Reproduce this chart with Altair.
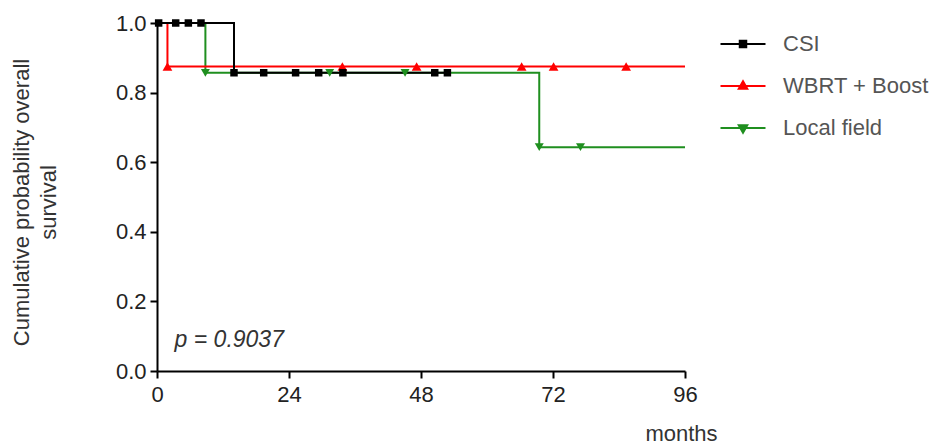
import altair as alt
import pandas as pd

FONT = "Liberation Sans"

groups = ["CSI", "WBRT + Boost", "Local field"]
colors = ["#000000", "#ff0000", "#1f8f1f"]

# Kaplan-Meier step curves (months, survival)
csi_step_months = [0.0, 14.0, 53.0]
csi_step_surv = [1.0, 0.857, 0.857]
wbrt_step_months = [0.0, 1.9, 96.0]
wbrt_step_surv = [1.0, 0.875, 0.875]
local_step_months = [0.0, 8.8, 69.5, 96.0]
local_step_surv = [1.0, 0.857, 0.643, 0.643]

# plotted markers (months, survival)
csi_mark_months = [0.3, 3.4, 5.7, 8.0, 14.0, 19.4, 25.2, 29.4, 33.8, 50.5, 52.8]
csi_mark_surv = [1.0, 1.0, 1.0, 1.0, 0.857, 0.857, 0.857, 0.857, 0.857, 0.857, 0.857]
wbrt_mark_months = [1.9, 33.7, 47.2, 66.3, 72.1, 85.3]
wbrt_mark_surv = [0.875, 0.875, 0.875, 0.875, 0.875, 0.875]
local_mark_months = [8.8, 31.4, 45.1, 69.5, 77.0]
local_mark_surv = [0.857, 0.857, 0.857, 0.643, 0.643]

x_ticks = [0, 24, 48, 72, 96]
y_ticks = [0.0, 0.2, 0.4, 0.6, 0.8, 1.0]

p_text = ["p = 0.9037"]
p_month = [3.2]
p_surv = [0.088]

# legend symbols: line with marker in the middle
legend_paths = [
    "M-4.5,0L4.5,0M-0.65,-0.65L0.65,-0.65L0.65,0.65L-0.65,0.65Z",
    "M-4.5,0L4.5,0M0,-0.95L0.85,0.55L-0.85,0.55Z",
    "M-4.5,0L4.5,0M0,0.95L0.85,-0.55L-0.85,-0.55Z",
]


def steps(name, months, surv):
    return pd.DataFrame({"group": name, "month": months, "surv": surv})


lines_df = pd.concat([
    steps("CSI", csi_step_months, csi_step_surv),
    steps("WBRT + Boost", wbrt_step_months, wbrt_step_surv),
    steps("Local field", local_step_months, local_step_surv),
], ignore_index=True)

x_enc = alt.X(
    "month:Q",
    scale=alt.Scale(domain=[0, 96], nice=False, zero=False),
    axis=alt.Axis(
        values=x_ticks, format="d", grid=False, labelFlush=False,
        domainColor="#000", domainWidth=2, tickColor="#000", tickWidth=2, tickSize=7,
        labelFont=FONT, labelFontSize=22, labelColor="#222", labelPadding=6,
        title="months", titleFont=FONT, titleFontSize=22, titleFontWeight="normal",
        titleColor="#333", titleX=524, titleY=62, titleAlign="center", titleBaseline="middle",
    ),
)
y_enc = alt.Y(
    "surv:Q",
    scale=alt.Scale(domain=[0, 1], nice=False),
    axis=alt.Axis(
        values=y_ticks, format=".1f", grid=False, labelFlush=False,
        domainColor="#000", domainWidth=2, tickColor="#000", tickWidth=2, tickSize=7,
        labelFont=FONT, labelFontSize=22, labelColor="#222", labelPadding=4,
        title=["Cumulative probability overall", "survival"],
        titleFont=FONT, titleFontSize=22, titleFontWeight="normal", titleColor="#333",
        titleAngle=270, titleX=-146, titleY=179, titleAlign="center",
        titleBaseline="top", titleLineHeight=27,
    ),
)


def line_layer(name, color):
    return alt.Chart(lines_df).transform_filter(
        alt.datum.group == name
    ).mark_line(interpolate="step-after", color=color, strokeWidth=2).encode(x=x_enc, y=y_enc)


def point_layer(months, surv, shape, size, color):
    df = pd.DataFrame({"month": months, "surv": surv})
    return alt.Chart(df).mark_point(
        shape=shape, filled=True, size=size, color=color, opacity=1, strokeWidth=0
    ).encode(x="month:Q", y="surv:Q")


leg = alt.Legend(
    title=None, orient="none", legendX=575, legendY=10,
    labelFont=FONT, labelFontSize=22, labelColor="#555", labelOffset=29,
    symbolSize=100, symbolStrokeWidth=2, rowPadding=20, padding=0,
)

legend_layer = alt.Chart(lines_df).transform_filter("false").mark_point(
    filled=True, size=100, opacity=1, strokeWidth=2
).encode(
    x="month:Q", y="surv:Q",
    fill=alt.Fill("group:N", scale=alt.Scale(domain=groups, range=colors), legend=leg),
    stroke=alt.Stroke("group:N", scale=alt.Scale(domain=groups, range=colors), legend=leg),
    shape=alt.Shape("group:N", scale=alt.Scale(domain=groups, range=legend_paths), legend=leg),
)

text_df = pd.DataFrame({"label": p_text, "month": p_month, "surv": p_surv})
text_layer = alt.Chart(text_df).mark_text(
    align="left", baseline="middle", font=FONT, fontSize=23, fontStyle="italic", color="#333"
).encode(x="month:Q", y="surv:Q", text="label:N")

chart = alt.layer(
    line_layer("Local field", colors[2]),
    line_layer("WBRT + Boost", colors[1]),
    line_layer("CSI", colors[0]),
    point_layer(local_mark_months, local_mark_surv, "triangle-down", 80, colors[2]),
    point_layer(wbrt_mark_months, wbrt_mark_surv, "triangle-up", 95, colors[1]),
    point_layer(csi_mark_months, csi_mark_surv, "square", 56, colors[0]),
    text_layer,
    legend_layer,
).properties(
    width=528, height=348,
    autosize=alt.AutoSizeParams(type="none"),
    padding={"left": 157, "top": 23, "right": 251, "bottom": 76},
).configure(
    background="white",
).configure_view(
    stroke="transparent", strokeWidth=0,
)

chart.save("out.html", embed_options={"renderer": "svg", "actions": False})
